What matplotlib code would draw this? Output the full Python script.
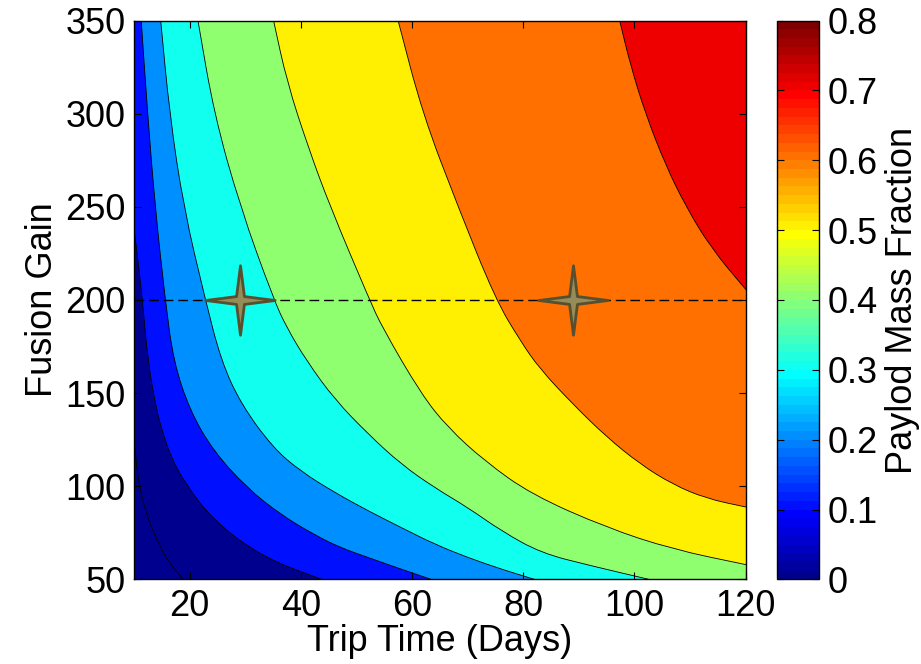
import numpy as np
import matplotlib
matplotlib.use('Agg')
import matplotlib.pyplot as plt
from matplotlib.colors import ListedColormap, Normalize
from matplotlib.cm import ScalarMappable
from matplotlib.path import Path
from matplotlib.patches import PathPatch

plt.rcParams['font.family'] = ['Liberation Sans', 'DejaVu Sans']

# contour lines: trip time (days) vs fusion gain
t_00 = [10.0, 10.65, 12.0, 14.4, 16.5, 18.9]
g_00 = [126.0, 104.6, 86.7, 68.9, 58.1, 50.0]

t_01 = [10.0, 10.8, 11.5, 12.5, 14.1, 15.3, 16.5, 18.9, 24.3, 33.3, 43.8]
g_01 = [238.6, 218.9, 200.5, 167.0, 140.0, 127.8, 117.0, 102.8, 81.4, 61.7, 50.0]

t_02 = [11.3, 12.45, 13.8, 15.6, 17.1, 20.1, 24.3, 30.3, 36.3, 42.3, 47.1, 52.2, 58.1, 63.5]
g_02 = [350.0, 300.0, 250.0, 200.5, 167.1, 140.3, 118.9, 99.2, 85.0, 74.2, 67.1, 61.7, 55.5, 50.0]

t_03 = [14.8, 16.4, 18.9, 22.8, 25.7, 29.3, 35.0, 40.0, 46.2, 52.2, 58.1, 64.1, 70.1, 76.1, 82.1]
g_03 = [350.0, 300.0, 250.0, 200.5, 167.1, 143.9, 120.7, 108.0, 96.5, 86.7, 77.8, 68.9, 61.7, 55.5, 50.0]

t_04 = [21.5, 24.4, 29.1, 35.1, 37.5, 41.1, 46.1, 52.2, 58.1, 64.1, 70.1, 76.1, 83.2, 92.0, 102.7]
g_04 = [350.0, 300.0, 250.0, 200.5, 185.0, 167.1, 146.6, 127.8, 111.7, 99.2, 88.5, 76.0, 64.2, 57.5, 50.0]

t_05 = [35.1, 37.5, 41.4, 45.3, 52.3, 54.7, 61.7, 66.5, 73.1, 81.5, 95.0, 106.9, 119.8, 125.0]
g_05 = [350.0, 317.2, 281.4, 250.0, 200.5, 185.0, 149.3, 131.4, 113.5, 95.6, 77.8, 66.2, 58.1, 55.0]

t_06 = [57.5, 61.9, 68.3, 75.0, 79.5, 83.0, 89.0, 95.0, 101.0, 106.9, 112.9, 119.8, 125.0]
g_06 = [350.0, 300.0, 250.0, 200.5, 178.0, 163.0, 143.9, 126.5, 112.0, 101.0, 93.5, 89.0, 86.0]

t_07 = [97.35, 99.3, 102.0, 105.6, 109.3, 113.8, 119.8, 122.0]
g_07 = [350.0, 326.1, 300.0, 272.5, 250.0, 227.9, 206.4, 199.0]

levels = [0.0, 0.1, 0.2, 0.3, 0.4, 0.5, 0.6, 0.7]
contour_t = [t_00, t_01, t_02, t_03, t_04, t_05, t_06, t_07]
contour_g = [g_00, g_01, g_02, g_03, g_04, g_05, g_06, g_07]

gain_ref = 200
star_t = [29, 89]
star_g = [200, 200]
cbar_ticks = [0, 0.1, 0.2, 0.3, 0.4, 0.5, 0.6, 0.7, 0.8]


def matlab_jet(n=64):
    m = int(np.ceil(n / 4))
    u = np.concatenate([np.arange(1, m + 1) / m, np.ones(m - 1), np.arange(m, 0, -1) / m])
    g = int(np.ceil(m / 2)) - (n % 4 == 1) + np.arange(1, len(u) + 1)
    r = g + m
    b = g - m
    J = np.zeros((n, 3))
    J[r[r <= n] - 1, 0] = u[r <= n]
    J[g[g <= n] - 1, 1] = u[g <= n]
    J[b[b >= 1] - 1, 2] = u[b >= 1]
    return J


jet = matlab_jet(64)
cmap = ListedColormap(jet)
norm = Normalize(0, 0.8)


def band_color(v):
    return jet[min(int(round(v / 0.8 * 64)), 63)]


def smooth_curve(tt, gg):
    # quadratic bezier through segment midpoints, read points as control points
    pts = np.column_stack([tt, gg])
    verts = [pts[0]]
    codes = [Path.MOVETO]
    mids = (pts[:-1] + pts[1:]) / 2
    verts.append(mids[0])
    codes.append(Path.LINETO)
    for i in range(1, len(pts) - 1):
        verts += [pts[i], mids[i]]
        codes += [Path.CURVE3, Path.CURVE3]
    verts.append(pts[-1])
    codes.append(Path.LINETO)
    return verts, codes


fs = 26
fig = plt.figure(figsize=(9.21, 6.64), dpi=100)
ax = fig.add_axes([0.1455, 0.1273, 0.664, 0.8418])
ax.set_facecolor(band_color(0.0))

# painter's order: each level covers everything above/right of its line
for lv, tt, gg in zip(levels, contour_t, contour_g):
    verts, codes = smooth_curve(tt, gg)
    fv = [(0, gg[0])] + verts + [(200, gg[-1]), (200, 400), (0, 400), (0, gg[0])]
    fc = [Path.MOVETO, Path.LINETO] + codes[1:] + [Path.LINETO] * 3 + [Path.CLOSEPOLY]
    ax.add_patch(PathPatch(Path(fv, fc), fc=band_color(lv), ec='none', lw=0))
for tt, gg in zip(contour_t, contour_g):
    verts, codes = smooth_curve(tt, gg)
    ax.add_patch(PathPatch(Path(verts, codes), fill=False, ec='k', lw=0.6))

ax.axhline(gain_ref, color='k', ls=(0, (7, 3.5)), lw=1)

r_in = 0.16
sv = []
for k in range(4):
    a = np.deg2rad(90 * k)
    sv.append((np.cos(a), np.sin(a)))
    a2 = a + np.deg2rad(45)
    sv.append((r_in * np.cos(a2), r_in * np.sin(a2)))
sv.append(sv[0])
star = Path(sv, [Path.MOVETO] + [Path.LINETO] * 7 + [Path.CLOSEPOLY])
ax.plot(star_t, star_g, ls='none', marker=star, ms=50, mfc='#968c5a', mec='#55502f', mew=2, zorder=5)

ax.set_xlim(10, 120)
ax.set_ylim(50, 350)
ax.set_xticks([20, 40, 60, 80, 100, 120])
ax.set_yticks([50, 100, 150, 200, 250, 300, 350])
ax.tick_params(direction='in', top=True, right=True, length=5, width=0.8, labelsize=fs)
ax.tick_params(axis='x', pad=7)
ax.tick_params(axis='y', pad=6)
for s in ax.spines.values():
    s.set_linewidth(1)
ax.set_xlabel('Trip Time (Days)', fontsize=fs, labelpad=0)
ax.set_ylabel('Fusion Gain', fontsize=fs, labelpad=4)

cax = fig.add_axes([777 / 921, 0.1273, 42 / 921, 0.8418])
sm = ScalarMappable(norm=norm, cmap=cmap)
cb = fig.colorbar(sm, cax=cax, ticks=cbar_ticks)
cb.ax.set_yticklabels([f'{v:g}' for v in cbar_ticks])
cb.ax.tick_params(direction='in', left=True, right=True, length=5, width=0.8, labelsize=fs, pad=6)
cb.outline.set_linewidth(1)
cb.set_label('Paylod Mass Fraction', fontsize=fs, labelpad=5)

fig.savefig('out.png', dpi=100)
